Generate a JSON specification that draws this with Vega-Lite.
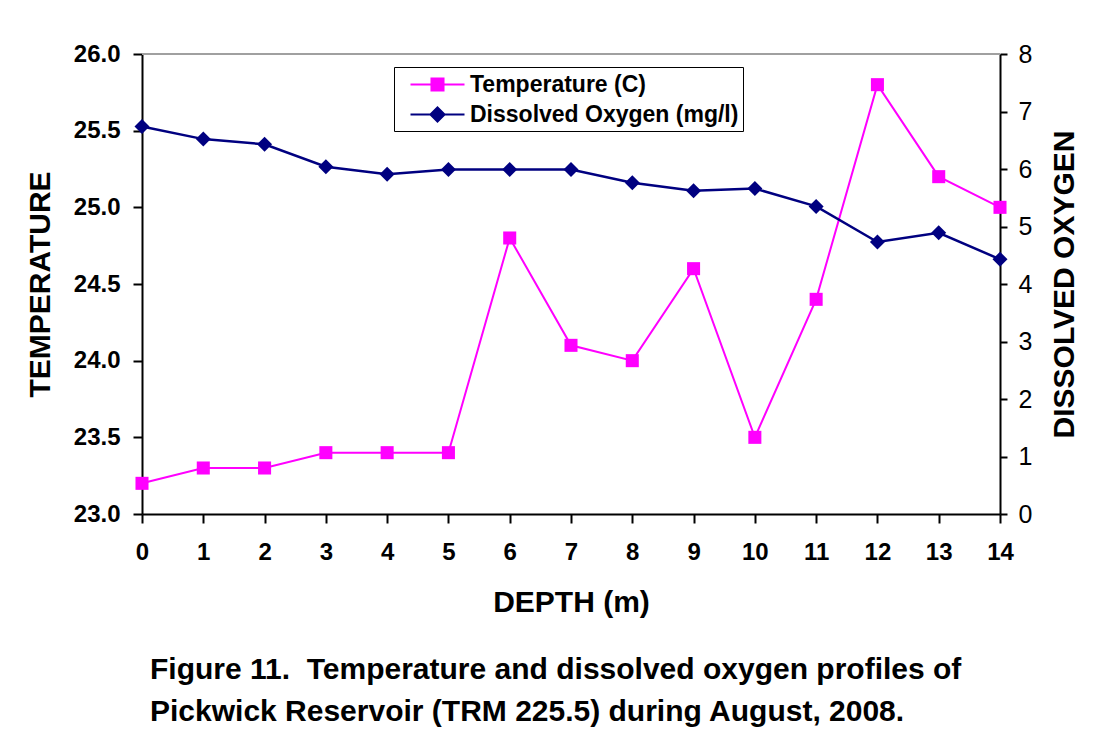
{
  "$schema": "https://vega.github.io/schema/vega-lite/v6.json",
  "autosize": {"type": "none"},
  "width": 858,
  "height": 460,
  "padding": {"left": 142, "top": 54, "right": 97, "bottom": 216},
  "background": "white",
  "config": {
    "font": "Liberation Sans",
    "view": {"stroke": null},
    "axis": {"grid": false, "domainColor": "black", "domainWidth": 2, "tickColor": "black", "tickWidth": 2, "labelColor": "black", "titleColor": "black", "labelFont": "Liberation Sans", "titleFont": "Liberation Sans", "labelFlush": false}
  },
  "title": {
    "text": ["Figure 11.\u00a0 Temperature and dissolved oxygen profiles of", "Pickwick Reservoir (TRM 225.5) during August, 2008."],
    "orient": "bottom",
    "anchor": "start",
    "frame": "group",
    "dx": 8,
    "offset": 38,
    "font": "Liberation Sans",
    "fontSize": 30,
    "fontWeight": "bold",
    "lineHeight": 42,
    "color": "black"
  },
  "data": {
    "values": [
      {"depth": 0, "temp": 23.2, "do": 6.74},
      {"depth": 1, "temp": 23.3, "do": 6.52},
      {"depth": 2, "temp": 23.3, "do": 6.43},
      {"depth": 3, "temp": 23.4, "do": 6.04},
      {"depth": 4, "temp": 23.4, "do": 5.91},
      {"depth": 5, "temp": 23.4, "do": 5.99},
      {"depth": 6, "temp": 24.8, "do": 5.99},
      {"depth": 7, "temp": 24.1, "do": 5.99},
      {"depth": 8, "temp": 24.0, "do": 5.76},
      {"depth": 9, "temp": 24.6, "do": 5.62},
      {"depth": 10, "temp": 23.5, "do": 5.66},
      {"depth": 11, "temp": 24.4, "do": 5.35},
      {"depth": 12, "temp": 25.8, "do": 4.73},
      {"depth": 13, "temp": 25.2, "do": 4.89},
      {"depth": 14, "temp": 25.0, "do": 4.43}
    ]
  },
  "layer": [
    {
      "layer": [
        {
          "mark": {"type": "rule", "color": "#a0a0a0", "strokeWidth": 2},
          "encoding": {"y": {"datum": 26, "type": "quantitative"}}
        },
        {
          "mark": {"type": "line", "color": "#FF00FF", "strokeWidth": 2},
          "encoding": {
            "x": {
              "field": "depth", "type": "quantitative",
              "scale": {"domain": [0, 14], "nice": false, "zero": false},
              "axis": {
                "title": "DEPTH (m)",
                "values": [0, 1, 2, 3, 4, 5, 6, 7, 8, 9, 10, 11, 12, 13, 14],
                "format": "d",
                "tickSize": 9,
                "labelFontSize": 24,
                "labelFontWeight": "bold",
                "labelPadding": 17,
                "titleFontSize": 30,
                "titleFontWeight": "bold",
                "titlePadding": 23
              }
            },
            "y": {
              "field": "temp", "type": "quantitative",
              "scale": {"domain": [23, 26], "nice": false, "zero": false},
              "axis": {
                "title": "TEMPERATURE",
                "values": [23, 23.5, 24, 24.5, 25, 25.5, 26],
                "format": ".1f",
                "tickSize": 9,
                "labelFontSize": 24,
                "labelFontWeight": "bold",
                "labelPadding": 13,
                "titleFontSize": 30,
                "titleFontWeight": "bold",
                "titlePadding": 18
              }
            }
          }
        },
        {
          "mark": {"type": "point", "shape": "square", "filled": true, "size": 170, "color": "#FF00FF", "opacity": 1},
          "encoding": {
            "x": {"field": "depth", "type": "quantitative"},
            "y": {"field": "temp", "type": "quantitative"}
          }
        },
        {
          "data": {"values": []},
          "mark": {"type": "point", "filled": true, "opacity": 1},
          "encoding": {
            "color": {
              "datum": "Temperature (C)", "type": "nominal",
              "scale": {"domain": ["Temperature (C)", "Dissolved Oxygen (mg/l)"], "range": ["#FF00FF", "#000080"]},
              "legend": {
                "orient": "none", "legendX": 252, "legendY": 13, "title": null,
                "strokeColor": "black", "fillColor": "white", "padding": 4,
                "symbolSize": 729, "symbolOffset": 26, "labelOffset": 19, "rowPadding": 4,
                "symbolOpacity": 1, "symbolStrokeWidth": 0,
                "labelFont": "Liberation Sans", "labelFontSize": 23, "labelFontWeight": "bold", "labelColor": "black", "labelLimit": 500
              }
            },
            "shape": {
              "datum": "Temperature (C)", "type": "nominal",
              "scale": {
                "domain": ["Temperature (C)", "Dissolved Oxygen (mg/l)"],
                "range": ["M-2,-0.075H2V0.075H-2Z M-0.52,-0.52H0.52V0.52H-0.52Z", "M-2,-0.075H2V0.075H-2Z M0,-0.63L0.63,0L0,0.63L-0.63,0Z"]
              },
              "legend": {
                "orient": "none", "legendX": 252, "legendY": 13, "title": null,
                "strokeColor": "black", "fillColor": "white", "padding": 4,
                "symbolSize": 729, "symbolOffset": 26, "labelOffset": 19, "rowPadding": 4,
                "symbolOpacity": 1, "symbolStrokeWidth": 0,
                "labelFont": "Liberation Sans", "labelFontSize": 23, "labelFontWeight": "bold", "labelColor": "black", "labelLimit": 500
              }
            }
          }
        }
      ]
    },
    {
      "layer": [
        {
          "mark": {"type": "line", "color": "#000080", "strokeWidth": 2.5},
          "encoding": {
            "x": {"field": "depth", "type": "quantitative"},
            "y": {
              "field": "do", "type": "quantitative",
              "scale": {"domain": [0, 8], "nice": false},
              "axis": {
                "orient": "right",
                "title": "DISSOLVED OXYGEN",
                "values": [0, 1, 2, 3, 4, 5, 6, 7, 8],
                "format": "d",
                "tickSize": 7,
                "labelFontSize": 25,
                "labelFontWeight": "normal",
                "labelPadding": 11,
                "titleFontSize": 30,
                "titleFontWeight": "bold",
                "titleAngle": 270,
                "titleBaseline": "top",
                "titlePadding": 18
              }
            }
          }
        },
        {
          "mark": {"type": "point", "shape": "diamond", "filled": true, "size": 225, "color": "#000080", "opacity": 1},
          "encoding": {
            "x": {"field": "depth", "type": "quantitative"},
            "y": {"field": "do", "type": "quantitative"}
          }
        },
        {
          "data": {"values": []},
          "mark": {"type": "point", "filled": true, "opacity": 1},
          "encoding": {
            "color": {"datum": "Dissolved Oxygen (mg/l)", "type": "nominal"},
            "shape": {"datum": "Dissolved Oxygen (mg/l)", "type": "nominal"}
          }
        }
      ]
    }
  ],
  "resolve": {"scale": {"y": "independent"}}
}
